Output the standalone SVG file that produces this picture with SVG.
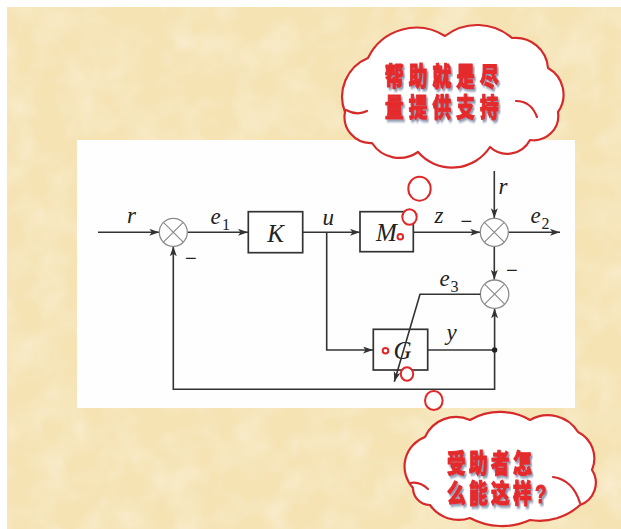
<svg xmlns="http://www.w3.org/2000/svg" width="621" height="529" viewBox="0 0 621 529">
  <defs>
    <style>
      .wire { fill: none; stroke: #333; stroke-width: 1.6; }
      .box { fill: #fff; stroke: #333; stroke-width: 1.7; }
      .sum { fill: #fff; stroke: #8c8c8c; stroke-width: 1.3; }
      .sumx { stroke: #8c8c8c; stroke-width: 1.2; }
      .lbl { font-family: "Liberation Serif", "Times New Roman", serif; font-style: italic; font-size: 23px; fill: #222; }
      .big { font-size: 25px; }
      .sub { font-family: "Liberation Serif", "Times New Roman", serif; font-size: 16px; fill: #222; }
      .minus { font-family: "Liberation Sans", "Arial", sans-serif; font-size: 20px; fill: #222; }
      .bubble { fill: #fff; stroke: #e0282a; stroke-width: 2; }
      .cloud { fill: #fff; stroke: #d62a2a; stroke-width: 2.2; stroke-linejoin: round; }
      .curl { fill: none; stroke: #d62a2a; stroke-width: 2.2; stroke-linecap: round; }
      .say { font-family: "Liberation Sans", "Noto Sans CJK SC", "Noto Sans CJK TC", sans-serif; font-weight: 900; font-size: 26px; fill: #e42a2a; stroke: #e42a2a; stroke-width: 1.1; stroke-linejoin: round; filter: url(#shade); }
    </style>
    <marker id="arrow" markerUnits="userSpaceOnUse" markerWidth="11" markerHeight="8" refX="10" refY="3.5" orient="auto">
      <path d="M0,0 L10,3.5 L0,7 L2.5,3.5 Z" fill="#333"/>
    </marker>
    <filter id="shade" x="-10%" y="-20%" width="130%" height="150%">
      <feDropShadow dx="2.2" dy="2.4" stdDeviation="1" flood-color="#6f7f9c" flood-opacity="0.8"/>
    </filter>
    <filter id="paper" x="0" y="0" width="100%" height="100%">
      <feTurbulence type="fractalNoise" baseFrequency="0.03" numOctaves="3" seed="7" result="n"/>
      <feColorMatrix in="n" type="matrix" values="0 0 0 0 1  0 0 0 0 0.98  0 0 0 0 0.92  0 0 0 0.7 -0.28"/>
    </filter>
  </defs>

  <!-- page and parchment -->
  <rect width="621" height="529" fill="#fff"/>
  <rect x="7" y="7" width="614" height="522" fill="#f5e3b4"/>
  <rect x="7" y="7" width="614" height="522" filter="url(#paper)"/>

  <!-- diagram panel -->
  <rect x="77" y="140" width="498" height="268" fill="#fefefe"/>

  <!-- connectors -->
  <g id="connectors">
    <path class="wire" d="M98 232.3 H159.3" marker-end="url(#arrow)"/>
    <path class="wire" d="M187.3 232.3 H248" marker-end="url(#arrow)"/>
    <path class="wire" d="M303 232.3 H360" marker-end="url(#arrow)"/>
    <path class="wire" d="M326.7 232.3 V350 H373" marker-end="url(#arrow)"/>
    <path class="wire" d="M413 232.3 H480.3" marker-end="url(#arrow)"/>
    <path class="wire" d="M494.3 171 V218.3" marker-end="url(#arrow)"/>
    <path class="wire" d="M508.3 232.3 H560" marker-end="url(#arrow)"/>
    <path class="wire" d="M494.3 246.3 V279.8" marker-end="url(#arrow)"/>
    <path class="wire" d="M427.7 350 H494.6"/>
    <path class="wire" d="M494.6 350 V308.3" marker-end="url(#arrow)"/>
    <path class="wire" d="M494.6 350 V389.3 H173.3 V246.3" marker-end="url(#arrow)"/>
    <circle cx="494.6" cy="350" r="2.7" fill="#222"/>
  </g>

  <!-- summing junctions -->
  <g id="sum1">
    <circle class="sum" cx="173.3" cy="232.3" r="14"/>
    <path class="sumx" d="M163.4 222.4 L183.2 242.2 M183.2 222.4 L163.4 242.2"/>
  </g>
  <g id="sum2">
    <circle class="sum" cx="494.3" cy="232.3" r="14"/>
    <path class="sumx" d="M484.4 222.4 L504.2 242.2 M504.2 222.4 L484.4 242.2"/>
  </g>
  <g id="sum3">
    <circle class="sum" cx="494.6" cy="294.2" r="14.2"/>
    <path class="sumx" d="M484.6 284.2 L504.6 304.2 M504.6 284.2 L484.6 304.2"/>
  </g>

  <!-- blocks -->
  <g id="K">
    <rect class="box" x="248.3" y="211.7" width="54.4" height="41"/>
    <text class="lbl big" x="275.5" y="242" text-anchor="middle">K</text>
  </g>
  <g id="M">
    <rect class="box" x="360" y="211.7" width="53.3" height="40"/>
    <text class="lbl big" x="386.5" y="240.5" text-anchor="middle">M</text>
  </g>
  <g id="G">
    <rect class="box" x="373.3" y="329.3" width="54.4" height="40.7"/>
    <text class="lbl big" x="402.5" y="358.5" text-anchor="middle">G</text>
  </g>

  <!-- e3 feed into G -->
  <path class="wire" d="M480.4 294.2 H420 L394.3 381.7" marker-end="url(#arrow)"/>

  <!-- signal labels -->
  <g id="labels">
    <text class="lbl" x="127" y="223">r</text>
    <text class="lbl" x="210.5" y="224">e</text><text class="sub" x="222" y="230">1</text>
    <text class="lbl" x="322.5" y="224.5">u</text>
    <text class="lbl" x="434.5" y="223">z</text>
    <text class="lbl" x="498.5" y="194">r</text>
    <text class="lbl" x="530.5" y="223">e</text><text class="sub" x="541.5" y="229">2</text>
    <text class="lbl" x="439.5" y="286">e</text><text class="sub" x="450.5" y="291.5">3</text>
    <text class="lbl" x="446.5" y="340">y</text>
    <text class="minus" x="185" y="265">−</text>
    <text class="minus" x="460.5" y="227.5">−</text>
    <text class="minus" x="506" y="277">−</text>
  </g>

  <!-- thought bubbles -->
  <g id="bubbles">
    <circle class="bubble" cx="400.3" cy="236.7" r="2.8" fill="none"/>
    <circle class="bubble" cx="385.5" cy="350.8" r="2.8" fill="none"/>
    <ellipse class="bubble" cx="409.5" cy="217" rx="7.2" ry="7.8"/>
    <ellipse class="bubble" cx="419.5" cy="188.7" rx="11.2" ry="12"/>
    <ellipse class="bubble" cx="407" cy="374" rx="6.2" ry="6.7"/>
    <ellipse class="bubble" cx="433.8" cy="400.5" rx="8.8" ry="9.5"/>
  </g>

  <!-- upper cloud -->
  <g id="cloud-help">
    <path class="cloud" d="M345 112 A41.9 41.9 0 0 1 368 58 A53.6 53.6 0 0 1 445 36 A52.8 52.8 0 0 1 512 38 A32.5 32.5 0 0 1 548 68 A30.4 30.4 0 0 1 558 112 A24.6 24.6 0 0 1 530 140 A25.6 25.6 0 0 1 490 147 A45.2 45.2 0 0 1 418 152 A32.5 32.5 0 0 1 372 143 A26.1 26.1 0 0 1 345 112 Z"/>
    <path class="curl" d="M346 110 Q357 116 367 111"/>
    <path class="curl" d="M516 101 Q531 101 537 117"/>
    <text class="say" transform="translate(385 0) scale(0.72 1)" letter-spacing="7"><tspan x="0" y="86">帮助就是尽</tspan><tspan x="0" y="117">量提供支持</tspan></text>
  </g>

  <!-- lower cloud -->
  <g id="cloud-why">
    <path class="cloud" d="M413 488 A31.5 31.5 0 0 1 425 437 A33.9 33.9 0 0 1 470 420 A60 60 0 0 1 530 420 A35.6 35.6 0 0 1 578 432 A29.6 29.6 0 0 1 592 470 A23.5 23.5 0 0 1 580 505 A59.7 59.7 0 0 1 530 520 A67.8 67.8 0 0 1 470 518 A35 35 0 0 1 430 505 A16.9 16.9 0 0 1 413 488 Z"/>
    <path class="curl" d="M410 483 Q420 481 428 489"/>
    <path class="curl" d="M553 477 Q573 480 580 503"/>
    <text class="say" transform="translate(447 0) scale(0.72 1)" letter-spacing="4.6"><tspan x="0" y="473">受助者怎</tspan><tspan x="0" y="503">么能这样?</tspan></text>
  </g>
</svg>
